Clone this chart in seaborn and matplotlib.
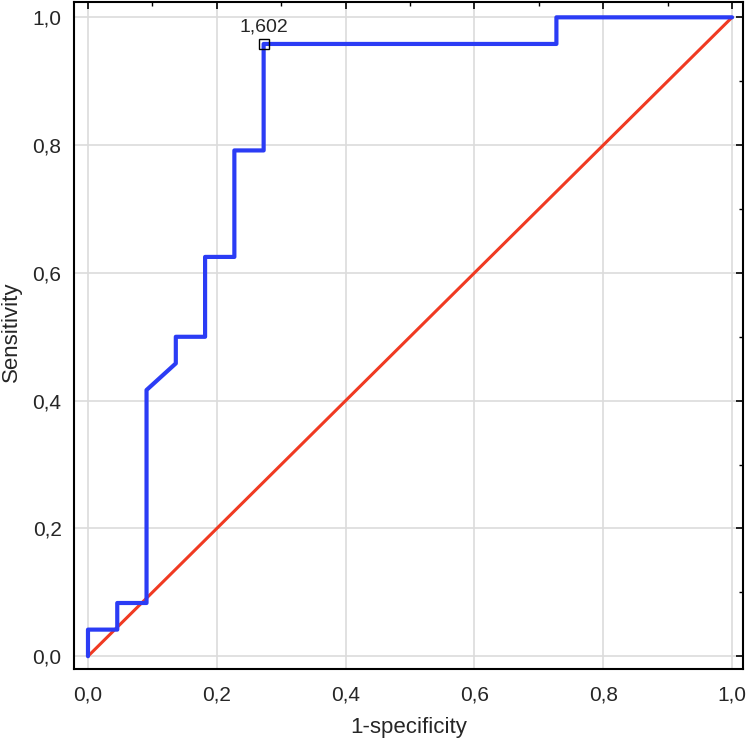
import matplotlib
matplotlib.use('Agg')
import matplotlib.pyplot as plt
import matplotlib.ticker as ticker
import seaborn as sns
import pandas as pd

# ROC curve points (1-specificity, sensitivity)
fpr = [0, 0, 1/22, 1/22, 2/22, 2/22, 3/22, 3/22, 4/22, 4/22, 5/22, 5/22, 6/22, 6/22, 16/22, 16/22, 1.0]
tpr = [0, 1/24, 1/24, 2/24, 2/24, 10/24, 11/24, 12/24, 12/24, 15/24, 15/24, 19/24, 19/24, 23/24, 23/24, 1.0, 1.0]
ref_line = [0.0, 1.0]
cutoff_point = (6/22, 23/24)
cutoff_label = '1,602'

sns.set_style('white')
plt.rcParams['font.family'] = ['Liberation Sans', 'DejaVu Sans']

roc = pd.DataFrame({'fpr': fpr, 'tpr': tpr, 'step': range(len(fpr))})

fig = plt.figure(figsize=(7.46, 7.39), dpi=100)
ax = fig.add_axes([0.0992, 0.0947, 0.8968, 0.9026])

ax.grid(True, color='#dcdcdc', linewidth=1.2)
ax.set_axisbelow(True)

# diagonal reference line
sns.lineplot(x=ref_line, y=ref_line, color='#f03a22', linewidth=2.2, ax=ax)
# roc curve drawn in point order
sns.lineplot(data=roc, x='fpr', y='tpr', sort=False, estimator=None,
             color='#2b3cf5', linewidth=3.0, ax=ax)

# cutoff marker and label
ax.plot(cutoff_point[0], cutoff_point[1], marker='s', markersize=7,
        markerfacecolor='none', markeredgecolor='black', markeredgewidth=1.0)
ax.annotate(cutoff_label, xy=cutoff_point, xytext=(0, 6), textcoords='offset points',
            ha='center', va='bottom', fontsize=14)

ax.set_xlim(-0.0217, 1.017)
ax.set_ylim(-0.020, 1.024)
ax.xaxis.set_major_locator(ticker.MultipleLocator(0.2))
ax.yaxis.set_major_locator(ticker.MultipleLocator(0.2))
ax.xaxis.set_minor_locator(ticker.MultipleLocator(0.1))
ax.yaxis.set_minor_locator(ticker.MultipleLocator(0.1))
fmt = ticker.FuncFormatter(lambda v, p: f'{v:.1f}'.replace('.', ','))
ax.xaxis.set_major_formatter(fmt)
ax.yaxis.set_major_formatter(fmt)
ax.tick_params(which='both', direction='in', top=True, right=True, labelsize=15, color='black')
ax.tick_params(which='major', length=5, width=1.2)
ax.tick_params(which='minor', length=3, width=1.0)
ax.tick_params(axis='x', which='major', pad=12)
ax.tick_params(axis='y', which='major', pad=9)

for s in ax.spines.values():
    s.set_color('black')
    s.set_linewidth(1.5)

ax.set_xlabel('1-specificity', fontsize=16, labelpad=9)
ax.set_ylabel('Sensitivity', fontsize=16)
ax.yaxis.set_label_coords(-0.078, 0.505)

fig.savefig('out.png', dpi=100)
